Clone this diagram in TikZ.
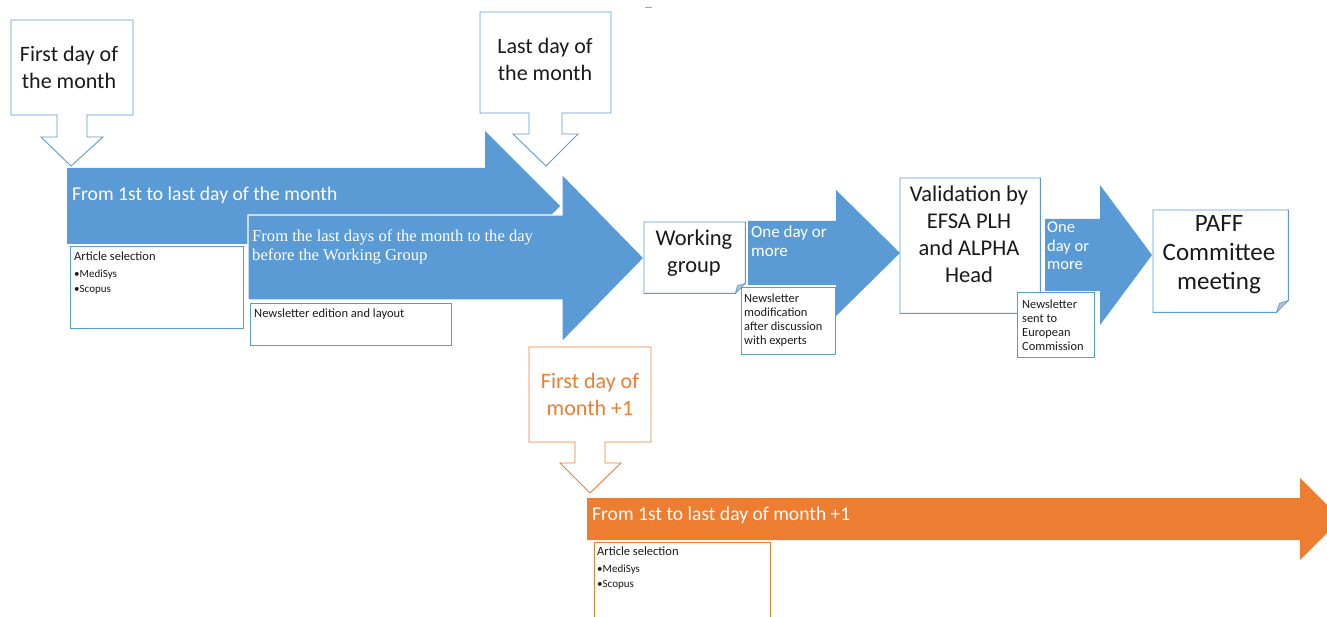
\documentclass[tikz,border=0pt]{standalone}
\usepackage{fontspec}
\setmainfont{Carlito}
\newfontfamily\serifface{Liberation Serif}
\definecolor{accblue}{HTML}{5B9BD5}
\definecolor{accorange}{HTML}{ED7D31}
\definecolor{foldgray}{HTML}{BFBFBF}
\definecolor{ink}{HTML}{1A1A1A}
\begin{document}
\begin{tikzpicture}[x=1pt,y=-1pt,
  outline/.style={draw=accblue,line width=0.9pt,fill=white},
  outlineor/.style={draw=accorange,line width=0.9pt,fill=white},
  bigarrow/.style={fill=accblue,draw=white,line width=1.2pt},
  area/.style={draw=none,inner sep=0pt,anchor=north west},
  calltext/.style={inner sep=0pt,align=center,text=ink,font=\fontsize{22}{27}\selectfont},
  bartext/.style={inner sep=0pt,anchor=west,text=white,font=\fontsize{19.6}{22}\selectfont},
  smalltext/.style={inner sep=0pt,anchor=north west,align=left,text=ink,font=\fontsize{12.5}{16.5}\selectfont},
  notetext/.style={inner sep=0pt,anchor=north west,align=left,text=ink,font=\fontsize{12.4}{13.8}\selectfont},
  steptext/.style={inner sep=0pt,align=center,text=ink,font=\fontsize{22.5}{27}\selectfont},
  fold/.style={fill=foldgray,draw=accblue,line width=0.6pt}
]
\useasboundingbox (0,0) rectangle (1327,617);
\fill[white] (0,0) rectangle (1327,617);

% small mark at the top
\draw[gray!70,line width=0.8pt] (645,7) -- (652,7);

% ---------- main blue arrows ----------
\fill[accblue] (67,168) -- (485,168) -- (485,131) -- (560,206) -- (485,281) -- (485,244) -- (67,244) -- cycle;
\node[bartext] (month) at (72,195) {From 1st to last day of the month};

\draw[bigarrow] (248,215) -- (562,215) -- (562,174) -- (644,258) -- (562,342) -- (562,300) -- (248,300) -- cycle;
\node[inner sep=0pt,anchor=north west,align=left,text=white,
      font=\serifface\fontsize{16.6}{19}\selectfont] (lastdays) at (252,230)
  {From the last days of the month to the day\\before the Working Group};

% ---------- callout: first day of the month ----------
\draw[outline] (11,20) -- (133,20) -- (133,115) -- (87,115) -- (87,137) -- (103,137)
  -- (71,166) -- (41,137) -- (57,137) -- (57,115) -- (11,115) -- cycle;
\node[calltext] (firstday) at (69,67) {First day of\\the month};

% ---------- callout: last day of the month ----------
\draw[outline] (480,12) -- (611,12) -- (611,113) -- (562,113) -- (562,134) -- (578,134)
  -- (546,166) -- (513,134) -- (529,134) -- (529,113) -- (480,113) -- cycle;
\node[calltext] (lastday) at (545,59) {Last day of\\the month};

% ---------- task boxes under the first arrows ----------
\node[area,outline,minimum width=173pt,minimum height=82pt] (selbox) at (70,246) {};
\node[smalltext] (seltext) at (74,252)
  {Article selection\\[0pt]{\fontsize{11}{16}\selectfont \textbullet MediSys}\\[-1pt]{\fontsize{11}{16}\selectfont \textbullet Scopus}};

\node[area,outline,minimum width=201pt,minimum height=42pt] (editbox) at (250,303) {};
\node[smalltext] (edittext) at (254,309) {Newsletter edition and layout};

% ---------- working group ----------
\node[area,minimum width=101pt,minimum height=71pt] (wg) at (644,222) {};
\draw[outline] (wg.north west) -- (wg.north east) -- ([yshift=10pt]wg.south east)
  -- ([xshift=-10pt]wg.south east) -- (wg.south west) -- cycle;
\draw[fold] ([yshift=10pt]wg.south east) -- ([xshift=-10pt]wg.south east)
  -- ([xshift=-8pt,yshift=8pt]wg.south east) -- cycle;
\node[steptext] (wgtext) at (694,253) {Working\\group};

% ---------- arrow: one day or more ----------
\fill[accblue] (748,221) -- (836,221) -- (836,190) -- (900,253) -- (836,316) -- (836,285) -- (748,285) -- cycle;
\node[inner sep=0pt,anchor=north west,align=left,text=white,
      font=\fontsize{17}{19}\selectfont] (oneday) at (751,225) {One day or\\more};

\node[area,outline,minimum width=94pt,minimum height=67pt] (modbox) at (741,287) {};
\node[notetext] (modtext) at (744,294)
  {Newsletter\\modification\\after discussion\\with experts};

% ---------- validation ----------
\node[area,minimum width=140pt,minimum height=135pt] (valid) at (900,178) {};
\draw[outline] (valid.north west) -- (valid.north east) -- ([yshift=10pt]valid.south east)
  -- ([xshift=-10pt]valid.south east) -- (valid.south west) -- cycle;
\draw[fold] ([yshift=10pt]valid.south east) -- ([xshift=-10pt]valid.south east)
  -- ([xshift=-8pt,yshift=8pt]valid.south east) -- cycle;
\node[steptext] (validtext) at (969,234) {Validation by\\EFSA PLH\\and ALPHA\\Head};

% ---------- arrow: one day or more (second) ----------
\fill[accblue] (1045,219) -- (1100,219) -- (1100,185) -- (1152,255) -- (1100,325) -- (1100,291) -- (1045,291) -- cycle;
\node[inner sep=0pt,anchor=north west,align=left,text=white,
      font=\fontsize{16.5}{18.5}\selectfont] (oneday2) at (1047,222) {One\\day or\\more};

\node[area,outline,minimum width=77pt,minimum height=65pt] (sentbox) at (1017,292) {};
\node[notetext] (senttext) at (1022,300)
  {Newsletter\\sent to\\European\\Commission};

% ---------- PAFF committee ----------
\node[area,minimum width=135pt,minimum height=102pt] (paff) at (1153,210) {};
\draw[outline] (paff.north west) -- (paff.north east) -- ([yshift=12pt]paff.south east)
  -- ([xshift=-12pt]paff.south east) -- (paff.south west) -- cycle;
\draw[fold] ([yshift=12pt]paff.south east) -- ([xshift=-12pt]paff.south east)
  -- ([xshift=-9pt,yshift=9pt]paff.south east) -- cycle;
\node[steptext,font=\fontsize{25}{29}\selectfont] (pafftext) at (1219,255) {PAFF\\Committee\\meeting};

% ---------- next month ----------
\fill[accorange] (587,498) -- (1300,498) -- (1300,478) -- (1341,519) -- (1300,560) -- (1300,540) -- (587,540) -- cycle;
\node[bartext] (nextmonth) at (592,515) {From 1st to last day of month +1};

\draw[outlineor] (529,347) -- (651,347) -- (651,442) -- (605,442) -- (605,463) -- (621,463)
  -- (590,493) -- (560,463) -- (575,463) -- (575,442) -- (529,442) -- cycle;
\node[calltext,text=accorange] (nextfirst) at (590,394) {First day of\\month +1};

\node[area,outlineor,minimum width=176pt,minimum height=90pt] (nextsel) at (594,542) {};
\node[smalltext] (nextseltext) at (597,547)
  {Article selection\\[0pt]{\fontsize{11}{16}\selectfont \textbullet MediSys}\\[-1pt]{\fontsize{11}{16}\selectfont \textbullet Scopus}};
\end{tikzpicture}
\end{document}
